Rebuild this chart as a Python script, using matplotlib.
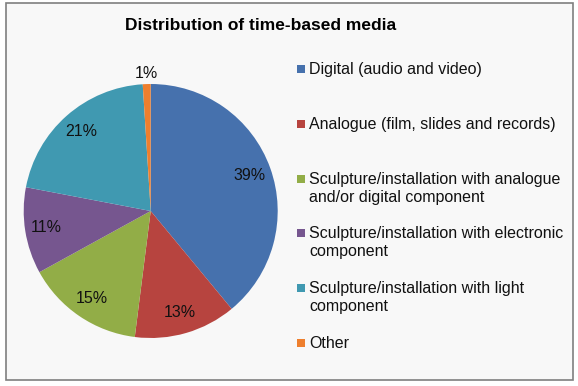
import matplotlib
matplotlib.use("Agg")
import matplotlib.pyplot as plt
from matplotlib.patches import Rectangle
import numpy as np

plt.rcParams['font.family'] = ['Liberation Sans', 'DejaVu Sans']

labels = ["Digital (audio and video)",
          "Analogue (film, slides and records)",
          "Sculpture/installation with analogue\nand/or digital component",
          "Sculpture/installation with electronic\ncomponent",
          "Sculpture/installation with light\ncomponent",
          "Other"]
shares = [39, 13, 15, 11, 21, 1]
colors = ["#4671AD", "#B7443F", "#92AD47", "#76568F", "#4099B1", "#EE7F2E"]

W, H = 578, 386
fig = plt.figure(figsize=(W / 100, H / 100), dpi=100)
fig.patch.set_facecolor("white")

# outer chart frame
fig.patches.append(Rectangle((5.7 / W, 1 - 379.5 / H), (572.7 - 5.7) / W, (379.5 - 2.7) / H,
                             transform=fig.transFigure, facecolor="#F8F8F8",
                             edgecolor="#7F7F7F", linewidth=1.2, zorder=-5))

fig.text(260.5 / W, 1 - 25 / H, "Distribution of time-based media",
         ha="center", va="center", fontsize=12.5, fontweight="bold")

# pie axes: center (150.7, 211) px, radius 127 px
cx, cy, r = 150.7, 211, 127
ax = fig.add_axes([(cx - r) / W, (H - cy - r) / H, 2 * r / W, 2 * r / H], zorder=2)
wedges, texts, autotexts = ax.pie(shares, colors=colors, startangle=90, counterclock=False,
                                  autopct="%d%%", pctdistance=0.83,
                                  textprops={"fontsize": 11.5, "color": "#111111"})
ax.set_xlim(-1, 1)
ax.set_ylim(-1, 1)
ax.set_aspect("equal")

# the small slice gets its label outside
theta = np.deg2rad(90 - 360 * (sum(shares) - shares[-1] / 2) / sum(shares))
autotexts[-1].set_position((1.08 * np.cos(theta), 1.08 * np.sin(theta)))

# legend entries, evenly spread like Excel
for i, (lab, col) in enumerate(zip(labels, colors)):
    yc = 69.3 + i * 54.7
    fig.patches.append(Rectangle((297.5 / W, 1 - (yc + 4) / H), 8 / W, 8 / H,
                                 transform=fig.transFigure, facecolor=col, edgecolor="none"))
    fig.text(309.3 / W, 1 - (yc - 7) / H, lab, ha="left", va="top",
             fontsize=11.5, linespacing=1.25, color="#111111")

fig.savefig("out.png", dpi=100, facecolor=fig.get_facecolor())
